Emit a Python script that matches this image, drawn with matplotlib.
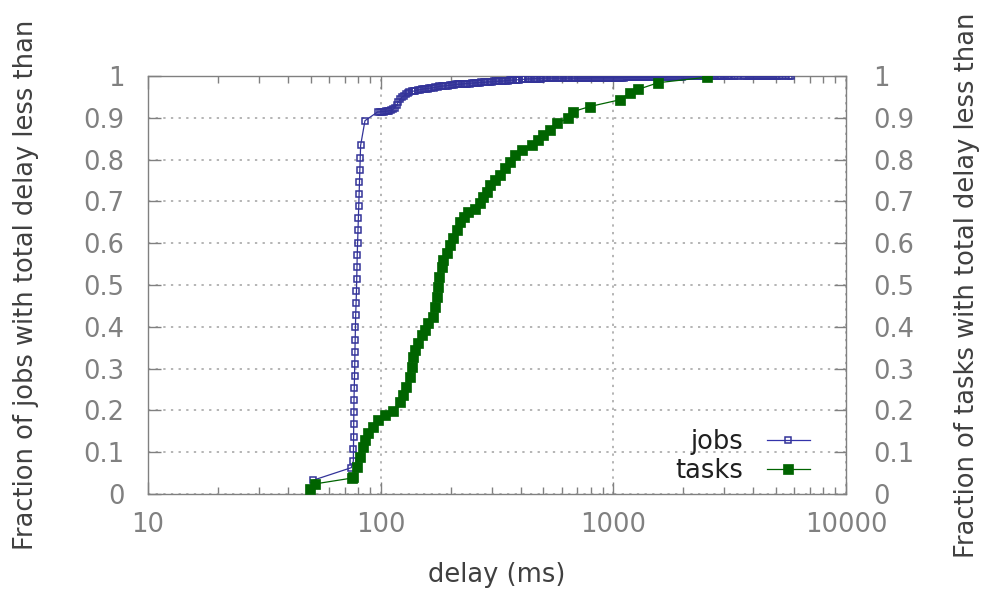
import matplotlib
matplotlib.use("Agg")
import matplotlib.pyplot as plt
from matplotlib.ticker import LogLocator, NullFormatter

# CDF of job delays (ms, fraction): first the steep column, then the dense tail
jobs_x = [51.3, 74.8,
          76.3, 76.4, 76.5, 76.6, 76.7, 76.8, 77.0, 77.2, 77.4, 77.5, 77.7, 77.9,
          78.1, 78.4, 78.7, 78.9, 79.1, 79.3, 79.6, 79.9, 80.2, 80.5, 80.8, 81.1,
          81.4, 81.7, 82.0, 85.6,
          97, 99, 101, 103, 105, 107, 109, 111, 113, 115,
          117, 119, 121, 123, 126, 128, 131, 133, 136, 139,
          141, 144, 147, 150, 153, 156, 159, 162, 165, 169,
          172, 176, 179, 183, 186, 190, 194, 198, 202, 206,
          210, 214, 218, 223, 227, 232, 236, 241, 246, 251,
          256, 261, 266, 271, 277, 282, 288, 294, 300, 306,
          312, 318, 324, 331, 337, 344, 351, 358, 365, 372,
          380, 387, 395, 403, 411, 419, 428, 436, 445, 454,
          463, 472, 482, 491, 501, 511, 521, 532, 542, 553,
          564, 576, 587, 599, 611, 623, 636, 648, 661, 675,
          688, 702, 716, 730, 745, 760, 775, 790, 806, 822,
          839, 856, 873, 890, 908, 926, 945, 964, 983, 1003,
          1023, 1043, 1064, 1085, 1107, 1129, 1152, 1175, 1198, 1222,
          1247, 1272, 1297, 1323, 1350, 1377, 1404, 1432, 1461, 1490,
          1520, 1551, 1582, 1613, 1646, 1679, 1712, 1746, 1781, 1817,
          1853, 1890, 1928, 1967, 2006, 2046, 2087, 2129, 2171, 2215,
          2259, 2304, 2350, 2397, 2445, 2494, 2544,
          2595, 2647, 2700, 2754, 2809, 2865, 2900, 2980, 3040, 3100, 3150,
          3220, 3285, 3350, 3450, 3600, 3670, 3745, 3820, 3895, 3975, 4055,
          4135, 4220, 4300, 4390, 4500,
          4590, 4680, 4775, 4870, 4970, 5070, 5170, 5300, 5500, 5700, 5800]
jobs_y = [0.033, 0.063,
          0.079, 0.108, 0.137, 0.167, 0.196, 0.225, 0.253, 0.283, 0.312, 0.340, 0.369, 0.399,
          0.428, 0.456, 0.485, 0.514, 0.544, 0.572, 0.601, 0.631, 0.660, 0.688, 0.717, 0.746,
          0.776, 0.804, 0.834, 0.893,
          0.914, 0.914, 0.915, 0.915, 0.916, 0.916, 0.917, 0.918, 0.920, 0.924,
          0.930, 0.937, 0.944, 0.949, 0.953, 0.956, 0.959, 0.961, 0.963, 0.964,
          0.965, 0.966, 0.967, 0.968, 0.969, 0.970, 0.970, 0.971, 0.971, 0.972,
          0.973, 0.974, 0.975, 0.976, 0.976, 0.977, 0.977, 0.978, 0.978, 0.979,
          0.980, 0.980, 0.980, 0.981, 0.981, 0.982, 0.982, 0.982, 0.983, 0.983,
          0.984, 0.984, 0.984, 0.985, 0.985, 0.985, 0.986, 0.986, 0.986, 0.987,
          0.987, 0.987, 0.988, 0.988, 0.988, 0.989, 0.989, 0.990, 0.990, 0.990,
          0.991, 0.991, 0.991, 0.992, 0.992, 0.992, 0.993, 0.993, 0.993, 0.994,
          0.994, 0.994, 0.994, 0.994, 0.995, 0.995, 0.995, 0.995, 0.995, 0.995,
          0.995, 0.995, 0.995, 0.995, 0.995, 0.995, 0.995, 0.995, 0.995, 0.995,
          0.995, 0.995, 0.995, 0.995, 0.995, 0.995, 0.995, 0.995, 0.996, 0.996,
          0.996, 0.996, 0.996, 0.996, 0.996, 0.996, 0.996, 0.996, 0.996, 0.996,
          0.996, 0.996, 0.996, 0.996, 0.996, 0.997, 0.997, 0.997, 0.997, 0.997,
          0.997, 0.997, 0.997, 0.997, 0.997, 0.997, 0.997, 0.997, 0.997, 0.997,
          0.997, 0.997, 0.997, 0.997, 0.997, 0.997, 0.998, 0.998, 0.998, 0.998,
          0.998, 0.998, 0.998, 0.998, 0.999, 0.999, 0.999, 0.999, 0.999, 0.999,
          0.999, 0.999, 0.999, 0.999, 0.999, 0.999, 0.999,
          0.999, 0.999, 0.999, 0.999, 0.999, 0.999, 0.999, 0.999, 0.999, 0.999, 0.999,
          0.9995, 0.9995, 0.9995, 0.9995, 0.9995, 0.9995, 0.9995, 0.9995, 0.9995, 0.9995, 0.9995,
          0.9995, 0.9995, 0.9995, 0.9995, 0.9995,
          1.0, 1.0, 1.0, 1.0, 1.0, 1.0, 1.0, 1.0, 1.0, 1.0, 1.0]

# CDF of task delays (ms, fraction)
tasks_x = [49.5, 52, 75, 76.2, 78.9, 81.5, 83.7, 85.7, 88.5, 93.0, 97.7, 104, 113,
           121, 125, 129, 134, 136, 138, 140, 145, 150, 155, 160, 168, 171, 174,
           177, 179, 183, 186, 192, 199, 205, 212, 219, 227, 238, 254, 267, 276,
           286, 295, 310, 326, 342, 359, 378, 403, 445, 476, 500, 534, 571, 640,
           673, 793, 1065, 1178, 1279, 1560, 2518]
tasks_y = [0.012, 0.024, 0.038, 0.041, 0.065, 0.089, 0.113, 0.129, 0.145, 0.161, 0.177, 0.189, 0.199,
           0.221, 0.237, 0.257, 0.281, 0.305, 0.328, 0.344, 0.361, 0.380, 0.392, 0.408, 0.424, 0.448, 0.472,
           0.496, 0.520, 0.544, 0.560, 0.576, 0.596, 0.612, 0.632, 0.651, 0.663, 0.675, 0.683, 0.695, 0.711,
           0.723, 0.739, 0.751, 0.763, 0.779, 0.795, 0.811, 0.823, 0.835, 0.847, 0.859, 0.871, 0.887, 0.899,
           0.915, 0.927, 0.943, 0.959, 0.968, 0.984, 0.997]

y_ticks = [0, 0.1, 0.2, 0.3, 0.4, 0.5, 0.6, 0.7, 0.8, 0.9, 1]
y_ticklabels = ["0", "0.1", "0.2", "0.3", "0.4", "0.5", "0.6", "0.7", "0.8", "0.9", "1"]
x_ticks = [10, 100, 1000, 10000]
x_ticklabels = ["10", "100", "1000", "10000"]

plt.rcParams['font.family'] = ['DejaVu Sans']
FS = 18.5
frame_col = '#808080'
tick_col = '#808080'
label_col = '#404040'

fig = plt.figure(figsize=(9.82, 5.91), dpi=100)
ax = fig.add_axes([148/982, 1-494/591, (846-148)/982, (494-76)/591])

ax.plot(jobs_x, jobs_y, color='#333399', lw=0.9, marker='s', ms=5,
        mfc='none', mec='#333399', mew=1.1, label='jobs', zorder=3)
ax.plot(tasks_x, tasks_y, color='#006400', lw=0.9, marker='s', ms=6.8,
        mfc='#006400', mec='#006400', mew=0.5, label='tasks', zorder=4)

ax.set_xscale('log')
ax.set_xlim(10, 10000)
ax.set_ylim(0, 1)
ax.set_xticks(x_ticks)
ax.set_xticklabels(x_ticklabels)
ax.xaxis.set_minor_locator(LogLocator(base=10, subs=range(2, 10)))
ax.xaxis.set_minor_formatter(NullFormatter())
ax.set_yticks(y_ticks)
ax.set_yticklabels(y_ticklabels)

ax.grid(True, which='major', color='#a0a0a0', linestyle=(0, (1.5, 3.5)), lw=1.1)
for s in ax.spines.values():
    s.set_color(frame_col)
    s.set_linewidth(1.0)

ax.tick_params(which='both', direction='in', top=True, right=False,
               color=frame_col, labelcolor=tick_col, labelsize=FS)
ax.tick_params(which='major', length=9, width=1)
ax.tick_params(which='minor', length=5, width=1)
ax.tick_params(axis='y', pad=17)
ax.tick_params(axis='x', pad=13)

ax2 = ax.twinx()
ax2.set_ylim(0, 1)
ax2.set_yticks(y_ticks)
ax2.set_yticklabels(y_ticklabels)
ax2.tick_params(direction='in', length=9, width=1, color=frame_col,
                labelcolor=tick_col, labelsize=FS, pad=19.5)
for s in ax2.spines.values():
    s.set_visible(False)

ax.set_xlabel('delay (ms)', fontsize=FS, color=label_col, labelpad=17)
ax.set_ylabel('Fraction of jobs with total delay less than', fontsize=FS,
              color=label_col, labelpad=32)
ax2.set_ylabel('Fraction of tasks with total delay less than', fontsize=FS,
               color=label_col, labelpad=29)

leg = ax.legend(loc='lower right', markerfirst=False, frameon=False,
                fontsize=FS, handlelength=1.7, handletextpad=0.9,
                labelspacing=0.1, bbox_to_anchor=(0.982, -0.031))
for t in leg.get_texts():
    t.set_color('#202020')
leg.legend_handles[0].set_linewidth(0.9)
leg.legend_handles[0].set_color('#3333aa')

fig.savefig('out.png', dpi=100)
